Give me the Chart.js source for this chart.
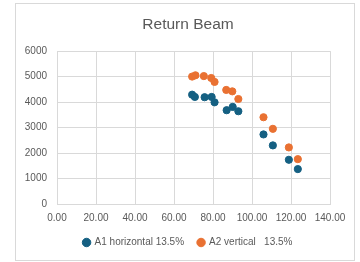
<!DOCTYPE html>
<html>
<head>
<meta charset="utf-8">
<script src="https://cdn.jsdelivr.net/npm/chart.js@4"></script>
<style>
html,body{margin:0;padding:0;background:#fff;}
#wrap{position:absolute;left:15px;top:3px;width:338px;height:256px;border:1px solid #d9d9d9;}
canvas{display:block;}
</style>
</head>
<body>
<div id="wrap"><canvas id="c" width="338" height="256"></canvas></div>
<script>
const seriesNames = ["A1 horizontal 13.5%", "A2 vertical   13.5%"];
const a1X = [69.3, 70.7, 75.7, 79.3, 80.8, 87.0, 90.1, 93.0, 105.9, 110.7, 118.9, 123.5];
const a1Y = [4290, 4200, 4190, 4200, 3990, 3680, 3810, 3640, 2730, 2300, 1735, 1370];
const a2X = [69.3, 71.0, 75.3, 79.1, 80.8, 86.8, 89.9, 93.0, 105.9, 110.7, 118.9, 123.5];
const a2Y = [5000, 5050, 5020, 4945, 4790, 4475, 4420, 4120, 3405, 2950, 2220, 1760];
const xTicks = [0, 20, 40, 60, 80, 100, 120, 140];
const yTicks = [0, 1000, 2000, 3000, 4000, 5000, 6000];
const titleText = "Return Beam";

const toPts = (xs, ys) => xs.map((x, i) => ({x: x, y: ys[i]}));
const FONT = "'Liberation Sans', Arial, sans-serif";
const grid = '#d9d9d9';
const txt = '#595959';

new Chart(document.getElementById('c'), {
  type: 'scatter',
  data: {
    datasets: [
      {label: seriesNames[0], data: toPts(a1X, a1Y), backgroundColor: '#156082', borderColor: '#156082', pointRadius: 3.6, pointHoverRadius: 3.6},
      {label: seriesNames[1], data: toPts(a2X, a2Y), backgroundColor: '#E97132', borderColor: '#E97132', pointRadius: 3.6, pointHoverRadius: 3.6}
    ]
  },
  options: {
    responsive: false,
    animation: false,
    layout: {padding: {left: 6, right: 0, top: 0, bottom: 2.5}},
    plugins: {
      title: {display: true, text: titleText, color: txt, font: {family: FONT, size: 15.5, weight: 'normal'}, padding: {top: 11, bottom: 17.5}},
      legend: {
        position: 'bottom',
        labels: {usePointStyle: true, pointStyle: 'circle', boxWidth: 6, boxHeight: 6, color: txt, font: {family: FONT, size: 10}, padding: 14}
      },
      tooltip: {enabled: false}
    },
    scales: {
      x: {
        type: 'linear', min: 0, max: 140,
        afterBuildTicks: s => { s.ticks = xTicks.map(v => ({value: v})); },
        ticks: {color: txt, font: {family: FONT, size: 10}, callback: v => Number(v).toFixed(2), padding: 8.7, maxRotation: 0},
        grid: {color: grid, drawTicks: false},
        border: {color: grid},
        afterFit: s => { s.height = 19.5; }
      },
      y: {
        type: 'linear', min: 0, max: 6000,
        afterBuildTicks: s => { s.ticks = yTicks.map(v => ({value: v})); },
        ticks: {color: txt, font: {family: FONT, size: 10}, padding: 10, callback: v => String(v)},
        grid: {color: grid, drawTicks: false},
        border: {display: false},
        afterFit: s => { s.width = 35; }
      },
      yRight: {
        type: 'linear', position: 'right', display: true,
        ticks: {display: false},
        grid: {display: false, drawTicks: false},
        border: {display: false},
        afterFit: s => { s.width = 24; }
      }
    }
  }
});
</script>
</body>
</html>
